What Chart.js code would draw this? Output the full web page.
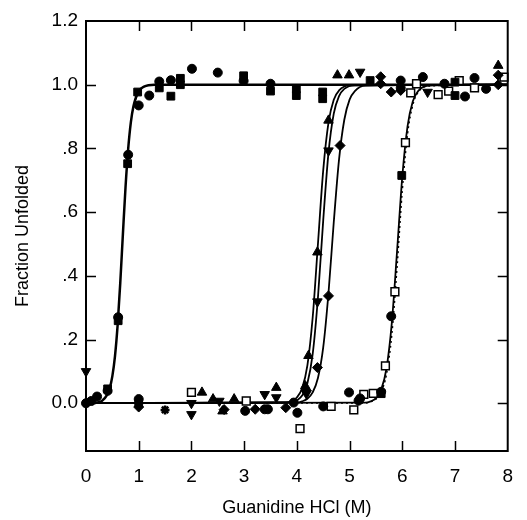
<!DOCTYPE html>
<html>
<head>
<meta charset="utf-8">
<script src="https://cdn.jsdelivr.net/npm/chart.js@4/dist/chart.umd.min.js"></script>
<style>
  html, body { margin: 0; padding: 0; background: #fff; }
  canvas { display: block; }
</style>
</head>
<body>
<canvas id="chart" width="527" height="520"></canvas>
<script>
// ── Osy ────────────────────────────────────────────────────────────────────
const xTicks = [0, 1, 2, 3, 4, 5, 6, 7, 8];
const yTicks = [0, 0.2, 0.4, 0.6, 0.8, 1.0, 1.2];

// ── Fitované křivky ────────────────────────────────────────────────────────
const curveAX = [0, 0.2, 0.3, 0.4, 0.45, 0.5, 0.55, 0.6, 0.65, 0.7, 0.75, 0.8, 0.85, 0.9, 1.0, 1.1, 1.3, 8];
const curveAY = [0, 0.002, 0.007, 0.026, 0.047, 0.085, 0.148, 0.245, 0.378, 0.531, 0.679, 0.798, 0.881, 0.932, 0.980, 0.994, 1.0, 1.0];

const curveBX = [0, 3.8, 3.9, 4.0, 4.1, 4.2, 4.3, 4.4, 4.5, 4.6, 4.7, 4.8, 5.0, 8];
const curveBY = [0, 0.002, 0.007, 0.018, 0.047, 0.119, 0.269, 0.5, 0.731, 0.881, 0.953, 0.982, 0.998, 1.0];

const curveCX = [0, 3.9, 4.0, 4.1, 4.2, 4.3, 4.4, 4.5, 4.6, 4.7, 4.8, 4.9, 5.1, 8];
const curveCY = [0, 0.003, 0.009, 0.024, 0.063, 0.154, 0.332, 0.574, 0.786, 0.909, 0.964, 0.987, 0.998, 1.0];

const curveDX = [0, 4.0, 4.1, 4.2, 4.3, 4.4, 4.5, 4.6, 4.7, 4.8, 4.9, 5.0, 5.1, 5.3, 8];
const curveDY = [0, 0.002, 0.006, 0.014, 0.034, 0.079, 0.175, 0.346, 0.568, 0.765, 0.890, 0.953, 0.980, 0.997, 1.0];

const curveEX = [0, 5.3, 5.4, 5.5, 5.6, 5.7, 5.8, 5.9, 6.0, 6.1, 6.2, 6.3, 6.5, 8];
const curveEY = [0, 0.002, 0.006, 0.016, 0.043, 0.109, 0.250, 0.475, 0.711, 0.870, 0.948, 0.980, 0.997, 1.0];

// tečkovaná křivka těsně vedle E
const curveFX = [0, 5.3, 5.4, 5.5, 5.6, 5.7, 5.8, 5.9, 6.0, 6.1, 6.2, 6.3, 6.5, 8];
const curveFY = [0, 0.001, 0.005, 0.013, 0.036, 0.091, 0.214, 0.426, 0.668, 0.846, 0.937, 0.976, 0.996, 1.0];

// ── Naměřené body podle symbolu ────────────────────────────────────────────
const circles = [
  [0, 0], [0.1, 0.007], [0.21, 0.021], [0.41, 0.039], [0.61, 0.27], [0.8, 0.78],
  [1.0, 0.935], [1.2, 0.966], [1.39, 1.01], [1.61, 1.014], [2.01, 1.05], [2.5, 1.038],
  [2.99, 1.012], [3.5, 1.003], [1.0, 0.013], [3.02, -0.024], [3.39, -0.019], [3.45, -0.019],
  [3.94, 0.002], [4.01, -0.03], [4.5, -0.01], [4.99, 0.034], [5.2, 0.015], [5.17, 0.008],
  [5.6, 0.036], [5.79, 0.273], [5.97, 1.013], [6.39, 1.024], [6.8, 1.003], [7.19, 0.963],
  [7.37, 1.021], [7.59, 0.987], [5.97, 0.99],
];
const squares = [
  [0.41, 0.045], [0.61, 0.259], [0.79, 0.752], [0.98, 0.977], [1.39, 0.99], [1.61, 0.964],
  [1.79, 1.02], [1.79, 1.0], [2.99, 1.028], [3.5, 0.98], [3.99, 0.987], [3.99, 0.966],
  [4.49, 0.977], [4.49, 0.956], [5.39, 1.013], [5.99, 0.715], [7.0, 1.008], [7.0, 0.966],
  [5.6, 0.03], [1.0, 0.0],
];
const trianglesUp = [
  [2.2, 0.034], [2.41, 0.013], [2.59, -0.025], [2.81, 0.013], [3.61, 0.049], [4.16, 0.054],
  [4.22, 0.149], [4.39, 0.474], [4.6, 0.888], [4.77, 1.03], [4.99, 1.03], [7.82, 1.06],
];
const trianglesDown = [
  [0, 0.1], [2.0, 0.0], [2.0, -0.035], [2.53, 0.007], [3.39, 0.028], [3.61, 0.018],
  [4.18, 0.03], [4.39, 0.319], [4.6, 0.793], [5.2, 1.04], [6.48, 0.977],
];
const diamonds = [
  [1.0, -0.012], [2.62, -0.02], [3.21, -0.019], [3.79, -0.014], [4.18, 0.04], [4.39, 0.112],
  [4.6, 0.337], [4.82, 0.809], [5.59, 1.025], [5.59, 1.003], [5.79, 0.977], [5.97, 0.982],
  [7.82, 1.03], [7.82, 1.0],
];
const openSquares = [
  [2.0, 0.034], [3.04, 0.007], [4.06, -0.08], [4.65, -0.01], [5.08, -0.021], [5.27, 0.028],
  [5.45, 0.031], [5.68, 0.117], [5.86, 0.35], [6.06, 0.818], [6.16, 0.974], [6.27, 1.003],
  [6.68, 0.969], [6.88, 0.98], [7.08, 1.013], [7.37, 0.99], [7.93, 1.024],
];
const stars = [[1.5, -0.021]];

const FONT = "'Liberation Sans', Arial, Helvetica, sans-serif";
const TICK = 10;

const toXY = (xs, ys) => xs.map((x, i) => ({ x, y: ys[i] }));
const pts = (arr) => arr.map(([x, y]) => ({ x, y }));

function curve(xs, ys, width, dash) {
  return {
    type: 'line',
    data: toXY(xs, ys),
    showLine: true,
    borderColor: '#000',
    borderWidth: width,
    borderDash: dash || [],
    pointRadius: 0,
    cubicInterpolationMode: 'monotone',
    fill: false,
    order: 10,
  };
}

function marks(arr, style, radius, extra) {
  return Object.assign({
    data: pts(arr),
    pointStyle: style,
    pointRadius: radius,
    pointBackgroundColor: '#000',
    pointBorderColor: '#000',
    pointBorderWidth: 1,
    showLine: false,
    clip: false,
    order: 1,
  }, extra || {});
}

// Rámeček a vnitřní značky os na všech čtyřech stranách.
const frameTicks = {
  id: 'frameTicks',
  afterDraw(chart) {
    const { ctx, chartArea: a, scales: { x, y } } = chart;
    ctx.save();
    ctx.strokeStyle = '#000';
    ctx.lineWidth = 2;
    ctx.strokeRect(a.left, a.top, a.right - a.left, a.bottom - a.top);
    ctx.lineWidth = 1.5;
    ctx.beginPath();
    xTicks.forEach((v) => {
      if (v <= x.min || v >= x.max) return;
      const px = Math.round(x.getPixelForValue(v)) + 0.5;
      ctx.moveTo(px, a.bottom); ctx.lineTo(px, a.bottom - TICK);
      ctx.moveTo(px, a.top); ctx.lineTo(px, a.top + TICK);
    });
    yTicks.forEach((v) => {
      if (v >= y.max) return;
      const py = Math.round(y.getPixelForValue(v)) + 0.5;
      ctx.moveTo(a.left, py); ctx.lineTo(a.left + TICK, py);
      ctx.moveTo(a.right, py); ctx.lineTo(a.right - TICK, py);
    });
    ctx.stroke();
    ctx.restore();
  },
};

new Chart(document.getElementById('chart'), {
  type: 'scatter',
  data: {
    datasets: [
      marks(circles, 'circle', 4.5),
      marks(squares, 'rect', 5.5),
      marks(trianglesUp, 'triangle', 5.5),
      marks(trianglesDown, 'triangle', 5.5, { pointRotation: 180 }),
      marks(diamonds, 'rectRot', 5),
      marks(openSquares, 'rect', 5.5, { pointBackgroundColor: '#fff', pointBorderWidth: 1.5 }),
      marks(stars, 'star', 4.5, { pointBorderWidth: 2.5 }),
      curve(curveAX, curveAY, 2.5),
      curve(curveBX, curveBY, 1.8),
      curve(curveCX, curveCY, 1.8),
      curve(curveDX, curveDY, 1.8),
      curve(curveEX, curveEY, 1.8),
      curve(curveFX, curveFY, 1.5, [2, 3]),
    ],
  },
  options: {
    responsive: false,
    animation: false,
    devicePixelRatio: 1,
    layout: { padding: { top: 21, right: 7, left: 0, bottom: 0 } },
    plugins: { legend: { display: false }, tooltip: { enabled: false } },
    scales: {
      x: {
        type: 'linear', min: 0, max: 8,
        afterFit: (s) => { s.height = 69; },
        afterBuildTicks: (s) => { s.ticks = xTicks.map((v) => ({ value: v })); },
        grid: { display: false, drawTicks: false },
        border: { display: false },
        ticks: { color: '#000', padding: 14, font: { family: FONT, size: 19 } },
        title: { display: true, text: 'Guanidine HCl (M)', color: '#000', padding: { top: 0, bottom: 1 }, font: { family: FONT, size: 18 } },
      },
      y: {
        type: 'linear', min: -0.15, max: 1.2,
        afterFit: (s) => { s.width = 86; },
        afterBuildTicks: (s) => { s.ticks = yTicks.map((v) => ({ value: v })); },
        grid: { display: false, drawTicks: false },
        border: { display: false },
        ticks: {
          color: '#000', padding: 8, font: { family: FONT, size: 19 },
          callback: (v) => {
            const t = Number(v).toFixed(1);
            return (v > 0 && v < 1) ? t.slice(1) : t;
          },
        },
        title: { display: true, text: 'Fraction Unfolded', color: '#000', padding: { top: 12, bottom: 0 }, font: { family: FONT, size: 18 } },
      },
    },
  },
  plugins: [frameTicks],
});
</script>
</body>
</html>
